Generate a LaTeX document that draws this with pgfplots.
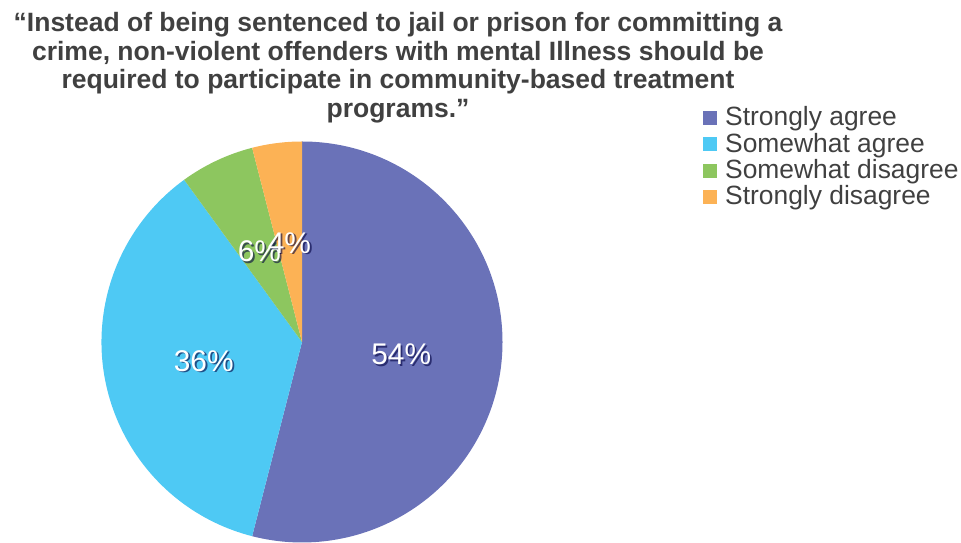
\documentclass[border=0pt]{standalone}
\usepackage{pgfplots}
\pgfplotsset{compat=1.18}
\usepackage{pgfplotstable}
\usepackage{fontspec}
\setmainfont{Liberation Sans}

\definecolor{c0}{HTML}{6A72B8}
\definecolor{c1}{HTML}{4EC9F4}
\definecolor{c2}{HTML}{8DC65F}
\definecolor{c3}{HTML}{FCB255}
\definecolor{txt}{HTML}{404040}

% share of answers, in percent, clockwise from 12 o'clock
\pgfplotstableread[col sep=comma]{
label,value
Strongly agree,54
Somewhat agree,36
Somewhat disagree,6
Strongly disagree,4
}\piedata

\begin{document}
\begin{tikzpicture}[x=1bp,y=1bp]
\useasboundingbox (0,0) rectangle (961,543);

\begin{axis}[
    hide axis,
    x=1bp, y=1bp,
    xmin=0, xmax=961, ymin=0, ymax=543,
    at={(0,0)}, anchor=origin,
    clip=false,
]
\pgfplotsextra{%
  % slices
  \xdef\cumangle{90}%
  \foreach \i in {0,...,3}{%
    \pgfplotstablegetelem{\i}{value}\of\piedata
    \let\val\pgfplotsretval
    \pgfmathsetmacro\endangle{\cumangle-3.6*\val}%
    \fill[fill=c\i] (axis cs:302,201) -- ++(\cumangle:200.5)
        arc[start angle=\cumangle, end angle=\endangle, radius=200.5] -- cycle;
    \xdef\cumangle{\endangle}%
  }%
  % percentage labels, on top of all slices
  \xdef\cumangle{90}%
  \foreach \i in {0,...,3}{%
    \pgfplotstablegetelem{\i}{value}\of\piedata
    \let\val\pgfplotsretval
    \pgfmathsetmacro\endangle{\cumangle-3.6*\val}%
    \pgfmathsetmacro\midangle{(\cumangle+\endangle)/2}%
    \pgfmathsetmacro\lx{302+100*cos(\midangle)}%
    \pgfmathsetmacro\ly{201+100*sin(\midangle)}%
    \node[text=black!75!blue, opacity=0.6, inner sep=0pt,
          font=\fontsize{30}{30}\selectfont]
        at (axis cs:\lx+1.8,\ly-1.8) {\val\%};
    \node[text=white, inner sep=0pt, font=\fontsize{30}{30}\selectfont]
        at (axis cs:\lx,\ly) {\val\%};
    \xdef\cumangle{\endangle}%
  }%
}
\end{axis}

% title
\begin{scope}[every node/.style={anchor=base, inner sep=0pt, text=txt,
    font=\fontsize{26.6}{28.5}\selectfont\bfseries}]
  \node at (398,511)   {“Instead of being sentenced to jail or prison for committing a};
  \node at (398,482.5) {crime, non-violent offenders with mental Illness should be};
  \node at (398,454)   {required to participate in community-based treatment};
  \node at (398,425.5) {programs.”};
\end{scope}

% legend
\foreach \i in {0,...,3}{%
  \pgfplotstablegetelem{\i}{label}\of\piedata
  \let\lab\pgfplotsretval
  \pgfmathsetmacro\by{417-26.3*\i}%
  \fill[fill=c\i] (703,\by+1) rectangle (717,\by+15);
  \node[anchor=base west, inner sep=0pt, text=txt,
        font=\fontsize{26.5}{26.5}\selectfont] at (725,\by) {\lab};
}
\end{tikzpicture}
\end{document}
